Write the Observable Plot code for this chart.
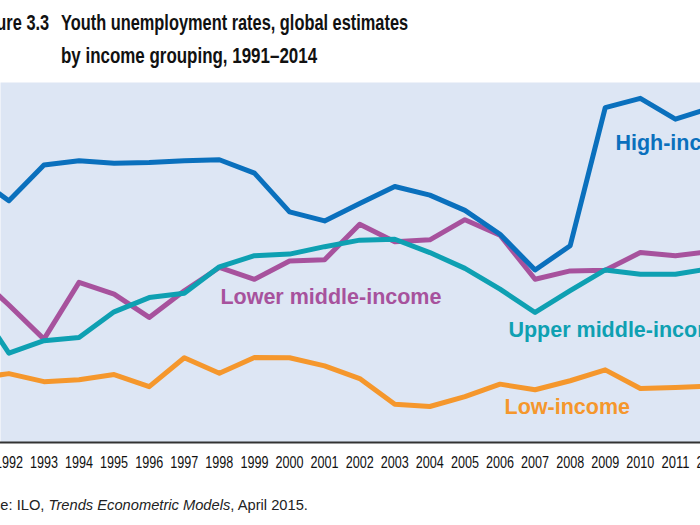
<!DOCTYPE html>
<html>
<head>
<meta charset="utf-8">
<script src="https://cdn.jsdelivr.net/npm/d3@7"></script>
<script src="https://cdn.jsdelivr.net/npm/@observablehq/plot@0.6"></script>
<style>
  html, body { margin: 0; padding: 0; background: white; }
  #wrap { position: relative; width: 700px; height: 525px; overflow: hidden; background: white; }
  .ttl { position: absolute; top: 6px; font-family: "Liberation Sans", Arial, sans-serif; font-weight: bold; font-size: 22.9px; line-height: 32.7px; color: #111; white-space: nowrap; transform: scaleX(0.715); }
  #fig { right: 651px; transform-origin: right top; }
  #title { left: 61px; transform-origin: left top; }
  #title .l2 { display: inline-block; transform: scaleX(1.035); transform-origin: left center; }
  #chart { position: absolute; left: 0; top: 82px; }
  #cap { position: absolute; left: -38px; top: 497px; font-family: "Liberation Sans", Arial, sans-serif; font-size: 14.7px; line-height: 16px; color: #222; white-space: nowrap; }
</style>
</head>
<body>
<div id="wrap">
  <div class="ttl" id="fig">Figure 3.3</div>
  <div class="ttl" id="title">Youth unemployment rates, global estimates<br><span class="l2">by income grouping, 1991–2014</span></div>
  <div id="chart"></div>
  <div id="cap">Source: ILO, <i>Trends Econometric Models</i>, April 2015.</div>
</div>
<script>
// Years shown (1991 and 2012 only partly visible at the cropped edges)
const years = [1991,1992,1993,1994,1995,1996,1997,1998,1999,2000,2001,2002,2003,2004,2005,2006,2007,2008,2009,2010,2011,2012];

// Youth unemployment rate (%) by income grouping
const lowIncome   = [9.06,9.22,8.96,9.02,9.19,8.80,9.73,9.23,9.74,9.73,9.47,9.06,8.23,8.16,8.48,8.88,8.70,8.99,9.34,8.74,8.77,8.82];
const lowerMiddle = [12.48,11.43,10.33,12.16,11.78,11.03,11.89,12.64,12.26,12.85,12.89,14.03,13.47,13.53,14.18,13.68,12.26,12.53,12.55,13.12,13.02,13.15];
const upperMiddle = [11.58,9.88,10.28,10.38,11.21,11.67,11.81,12.66,13.02,13.07,13.31,13.52,13.55,13.12,12.61,11.94,11.19,11.89,12.56,12.42,12.42,12.61];
const highIncome  = [15.60,14.79,15.94,16.08,16.00,16.02,16.08,16.11,15.68,14.43,14.14,14.70,15.25,14.97,14.48,13.71,12.56,13.34,17.79,18.09,17.42,17.78];

const seriesNames  = ["Low-income", "Lower middle-income", "Upper middle-income", "High-income"];
const seriesColors = ["#f5972c", "#a7529d", "#0ea0b2", "#0a70bd"];
const tickYears = [1991,1992,1993,1994,1995,1996,1997,1998,1999,2000,2001,2002,2003,2004,2005,2006,2007,2008,2009,2010,2011,2012];

const seriesValues = [lowIncome, lowerMiddle, upperMiddle, highIncome];
const rows = [];
seriesNames.forEach((name, i) => {
  years.forEach((yr, j) => rows.push({series: name, year: yr, value: seriesValues[i][j]}));
});

// Direct labels (in data units)
const labels = [
  {series: "High-income", year: 2009.29, value: 16.65},
  {series: "Lower middle-income", year: 1998.03, value: 11.67},
  {series: "Upper middle-income", year: 2006.24, value: 10.63},
  {series: "Low-income", year: 2006.13, value: 8.14}
];

const chart = Plot.plot({
  width: 700,
  height: 400,
  marginTop: 0,
  marginBottom: 40,
  marginLeft: 0,
  marginRight: 0,
  style: {background: "transparent", overflow: "visible"},
  x: {type: "linear", domain: [1991, 2012], range: [-26.7, 710], label: null},
  y: {domain: [7, 18.6], axis: null},
  color: {domain: seriesNames, range: seriesColors},
  marks: [
    Plot.frame({fill: "#dde6f4", stroke: null}),
    Plot.line(rows, {x: "year", y: "value", z: "series", stroke: "series", strokeWidth: 5, strokeLinejoin: "round", strokeLinecap: "butt", clip: true}),
    Plot.ruleY([7], {stroke: "#333", strokeWidth: 2}),
    Plot.axisX(tickYears, {tickSize: 0, tickPadding: 13, label: null, tickFormat: d => String(d), fontSize: 17, fill: "#111", fontFamily: "\"Liberation Sans\", Arial, sans-serif"}),
    Plot.text(labels, {x: "year", y: "value", text: "series", fill: "series", textAnchor: "start", fontWeight: "bold", fontSize: 21.5, fontFamily: "\"Liberation Sans\", Arial, sans-serif"})
  ]
});
document.getElementById("chart").appendChild(chart);

// Condense the year tick labels (the reference uses a condensed face)
d3.select(chart).selectAll('g[aria-label="x-axis tick label"] text')
  .attr("textLength", 28)
  .attr("lengthAdjust", "spacingAndGlyphs");
</script>
</body>
</html>
